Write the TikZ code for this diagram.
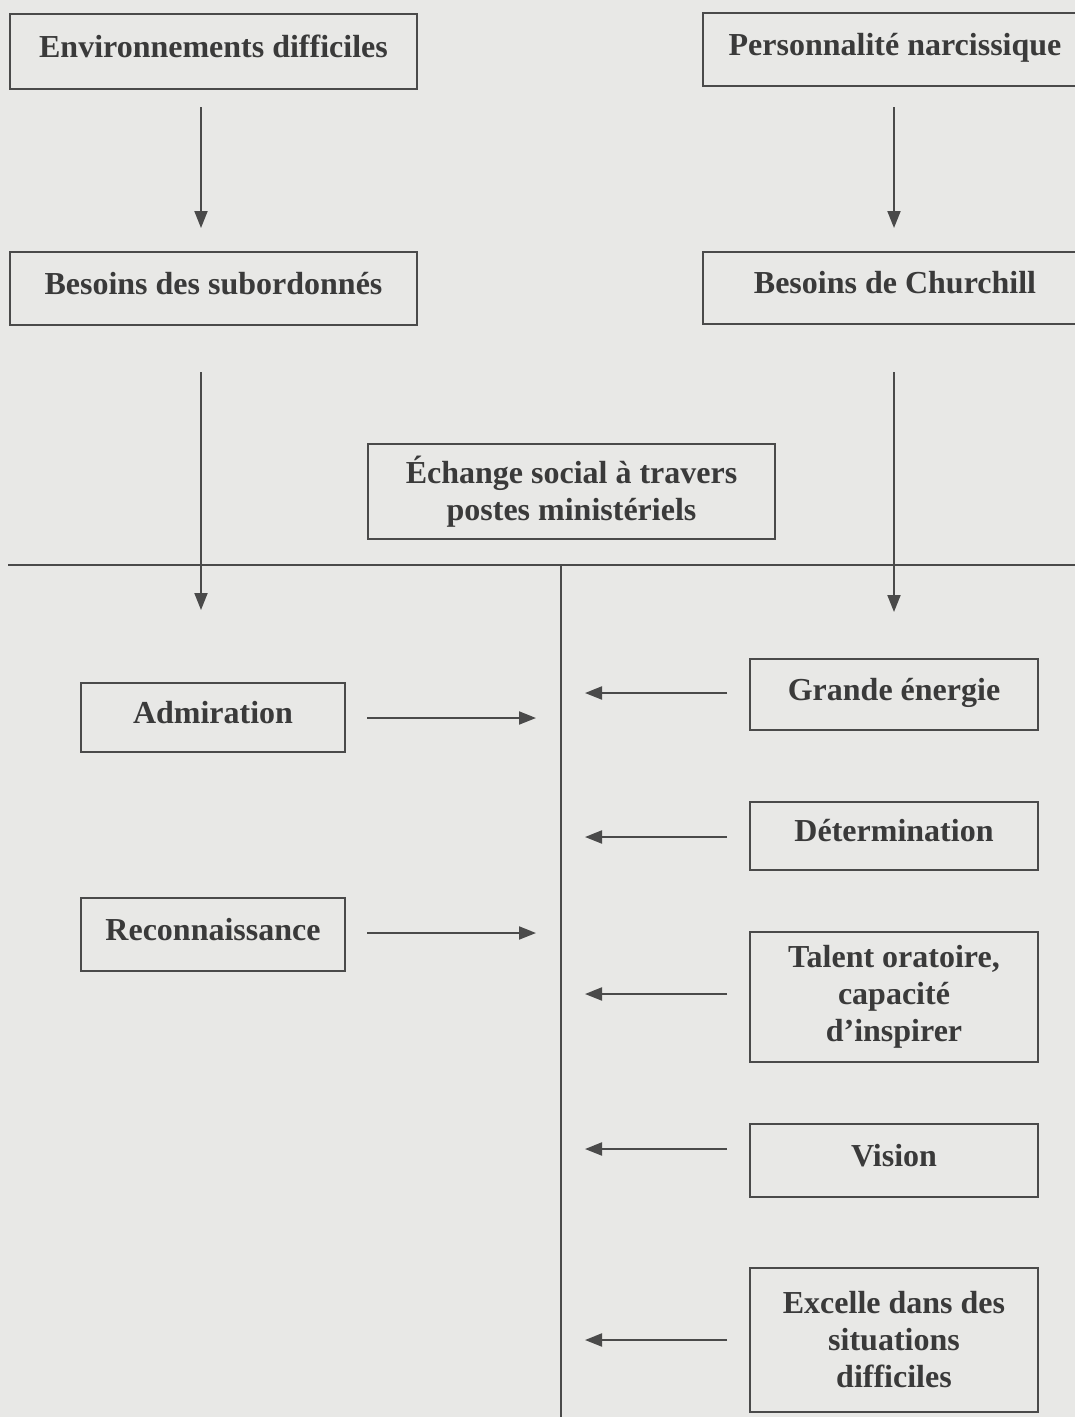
\documentclass[tikz,border=0pt]{standalone}
\usepackage{fontspec}
\setmainfont{Liberation Serif}
\usetikzlibrary{arrows.meta}
\definecolor{paper}{HTML}{E8E8E6}
\definecolor{ink}{HTML}{3A3A3A}
\definecolor{rule}{HTML}{4A4A4A}
\tikzset{
  boxnode/.style={draw=rule, line width=2.3pt, inner sep=0pt, text=ink,
    font=\fontsize{32}{37}\selectfont\bfseries, text height=23pt, text depth=12pt},
  multibox/.style={draw=rule, line width=2.3pt, inner sep=0pt, text=ink,
    font=\fontsize{32}{37}\selectfont\bfseries, align=center},
  flow/.style={draw=rule, line width=2pt, -{Triangle[length=17pt,width=13pt]}},
  plainline/.style={draw=rule, line width=2.3pt}
}
\begin{document}
\begin{tikzpicture}[x=1pt,y=-1pt]
\fill[paper] (0,0) rectangle (1075,1417);
\useasboundingbox (0,0) rectangle (1075,1417);
% top boxes
\node[boxnode, minimum width=407pt, minimum height=75pt] (env) at (213.5,51.5) {Environnements difficiles};
\node[boxnode, minimum width=407pt, minimum height=73pt] (bsub) at (213.5,288.5) {Besoins des subordonnés};
\node[boxnode, minimum width=384pt, minimum height=73pt] (pers) at (895,49.5) {Personnalité narcissique};
\node[boxnode, minimum width=384pt, minimum height=72pt] (bchu) at (895,288) {Besoins de Churchill};
\node[multibox, minimum width=407pt, minimum height=95pt] (ech) at (571.5,491.5) {Échange social à travers\\postes ministériels};
% left boxes
\node[boxnode, minimum width=264pt, minimum height=69pt] (adm) at (213,717.5) {Admiration};
\node[boxnode, minimum width=264pt, minimum height=73pt] (rec) at (213,934.5) {Reconnaissance};
% right boxes
\node[boxnode, minimum width=288pt, minimum height=71pt] (gra) at (894,694.5) {Grande énergie};
\node[boxnode, minimum width=288pt, minimum height=68pt] (det) at (894,836) {Détermination};
\node[multibox, minimum width=288pt, minimum height=130pt] (tal) at (894,997) {Talent oratoire,\\capacité\\d’inspirer};
\node[boxnode, minimum width=288pt, minimum height=73pt] (vis) at (894,1160.5) {Vision};
\node[multibox, minimum width=288pt, minimum height=144pt] (exc) at (894,1340) {Excelle dans des\\situations\\difficiles};
% divider lines
\coordinate (hl) at (8,565);
\coordinate (hr) at (1080,565);
\coordinate (vb) at (561,1420);
\coordinate (vt) at (561,565);
\draw[plainline] (hl) -- (hr);
\draw[plainline] (vt) -- (vb);
% arrow ends
\coordinate (a1s) at (201,107);  \coordinate (a1e) at (201,228);
\coordinate (a2s) at (894,107);  \coordinate (a2e) at (894,228);
\coordinate (a3s) at (201,372);  \coordinate (a3e) at (201,610);
\coordinate (a4s) at (894,372);  \coordinate (a4e) at (894,612);
\coordinate (admS) at (367,718); \coordinate (admE) at (536,718);
\coordinate (recS) at (367,933); \coordinate (recE) at (536,933);
\coordinate (graS) at (727,693); \coordinate (graE) at (585,693);
\coordinate (detS) at (727,837); \coordinate (detE) at (585,837);
\coordinate (talS) at (727,994); \coordinate (talE) at (585,994);
\coordinate (visS) at (727,1149); \coordinate (visE) at (585,1149);
\coordinate (excS) at (727,1340); \coordinate (excE) at (585,1340);
\draw[flow] (a1s) -- (a1e);
\draw[flow] (a2s) -- (a2e);
\draw[flow] (a3s) -- (a3e);
\draw[flow] (a4s) -- (a4e);
\draw[flow] (admS) -- (admE);
\draw[flow] (recS) -- (recE);
\draw[flow] (graS) -- (graE);
\draw[flow] (detS) -- (detE);
\draw[flow] (talS) -- (talE);
\draw[flow] (visS) -- (visE);
\draw[flow] (excS) -- (excE);
\end{tikzpicture}
\end{document}
